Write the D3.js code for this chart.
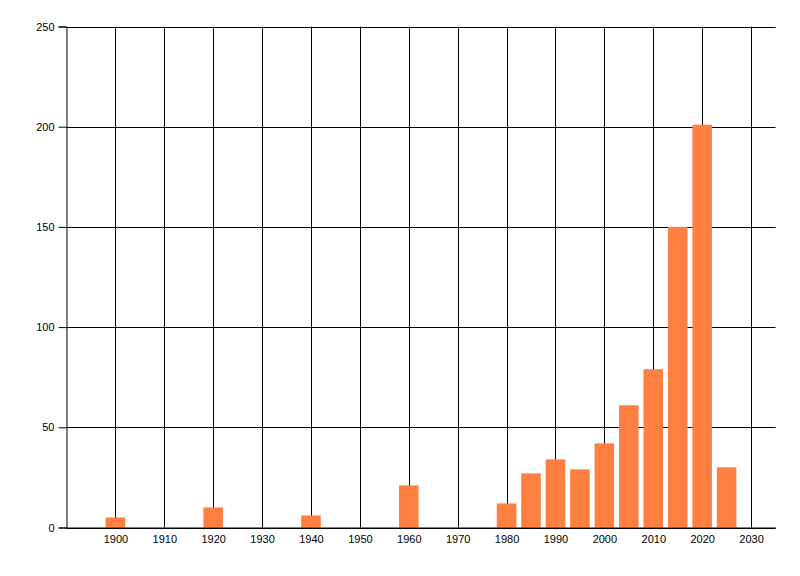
<!DOCTYPE html>
<html>
<head>
<meta charset="utf-8">
<script src="https://cdn.jsdelivr.net/npm/d3@7"></script>
<style>
  body { margin: 0; background: #fff; }
  svg { display: block; }
  .tick text { font-family: "Liberation Sans", Arial, sans-serif; font-size: 11px; fill: #000; }
</style>
</head>
<body>
<svg width="800" height="576"></svg>
<script>
// data
var years  = [1900, 1920, 1940, 1960, 1980, 1985, 1990, 1995, 2000, 2005, 2010, 2015, 2020, 2025];
var counts = [5, 10, 6, 21, 12, 27, 34, 29, 42, 61, 79, 150, 201, 30];
var xTicks = [1900, 1910, 1920, 1930, 1940, 1950, 1960, 1970, 1980, 1990, 2000, 2010, 2020, 2030];
var yTicks = [0, 50, 100, 150, 200, 250];

var svg = d3.select("svg");
var plotLeft = 66.5, plotRight = 775.5, plotTop = 26.5, plotBottom = 527.5;

var x = d3.scaleLinear().domain([1890, 2035]).range([plotLeft, plotRight]);
var y = d3.scaleLinear().domain([0, 250]).range([plotBottom, plotTop]);
var barW = x(1904) - x(1900);

// grid lines
svg.append("g").selectAll("line")
  .data(xTicks).enter().append("line")
    .attr("x1", function(d){ return Math.round(x(d)) + 0.5; })
    .attr("x2", function(d){ return Math.round(x(d)) + 0.5; })
    .attr("y1", plotTop).attr("y2", plotBottom)
    .style("stroke", "#000");

svg.append("g").selectAll("line")
  .data(yTicks).enter().append("line")
    .attr("x1", plotLeft).attr("x2", plotRight)
    .attr("y1", function(d){ return Math.round(y(d)) + 0.5; })
    .attr("y2", function(d){ return Math.round(y(d)) + 0.5; })
    .style("stroke", "#000");

// bars
svg.append("g").selectAll("rect")
  .data(years).enter().append("rect")
    .attr("x", function(d){ return x(d) - barW / 2; })
    .attr("width", barW)
    .attr("y", function(d, i){ return y(counts[i]); })
    .attr("height", function(d, i){ return plotBottom - y(counts[i]); })
    .style("fill", "#ff7f40");

// axes
var yAxis = d3.axisLeft(y).tickValues(yTicks).tickSize(8).tickPadding(4);
svg.append("g").attr("transform", "translate(" + plotLeft + ",0)").call(yAxis)
  .call(function(g){ g.selectAll("line, path").style("stroke", "#000"); });

var xAxis = d3.axisBottom(x).tickValues(xTicks).tickFormat(d3.format("d")).tickSize(0).tickPadding(8);
svg.append("g").attr("transform", "translate(0," + plotBottom + ")").call(xAxis)
  .call(function(g){ g.selectAll("line, path").style("stroke", "#000"); });
</script>
</body>
</html>
